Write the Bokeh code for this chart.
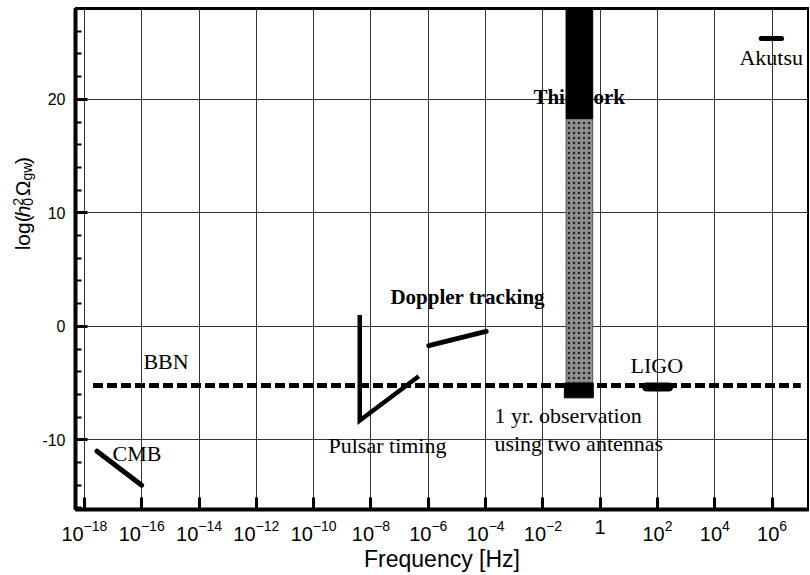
import math
from bokeh.plotting import figure
from bokeh.layouts import row
from bokeh.models import Range1d, FixedTicker, LogTickFormatter
from bokeh.core.properties import value
from bokeh.embed import file_html
from bokeh.resources import INLINE

# ---------------- data ----------------
x_tick_exponents = [-18, -16, -14, -12, -10, -8, -6, -4, -2, 0, 2, 4, 6]
y_ticks = [-10, 0, 10, 20]
y_tick_labels = ["-10", "0", "10", "20"]
y_minor_ticks = [-16, -14, -12, -10, -8, -6, -4, -2, 0, 2, 4, 6, 8, 10, 12, 14,
                 16, 18, 20, 22, 24, 26, 28]

# log10(frequency) and log(h0^2 Omega_gw) of each curve
bbn_logf = [-17.7, 7.0]
bbn_level = [-5.22, -5.22]
cmb_logf = [-17.56, -16.0]
cmb_level = [-11.0, -14.0]
pulsar_logf = [-8.39, -8.39, -6.33]
pulsar_level = [1.0, -8.3, -4.4]
doppler_logf = [-5.98, -3.98]
doppler_level = [-1.7, -0.45]
ligo_logf = [1.62, 2.39]
ligo_level = [-5.35, -5.35]
akutsu_logf = [5.62, 6.33]
akutsu_level = [25.35, 25.35]
this_work_logf = [-1.19, -0.26]
this_work_excluded = [18.3, 29.0]   # black upper part
this_work_band = [-5.0, 18.3]       # speckled part
this_work_base_logf = [-1.25, -0.24]
this_work_base = [-6.3, -5.0]

labels = ["BBN", "CMB", "Pulsar timing", "1 yr. observation", "using two antennas",
          "LIGO", "Akutsu"]
label_logf = [-15.94, -17.02, -9.48, -3.69, -3.69, 1.06, 4.86]
label_level = [-3.1, -11.2, -10.5, -7.85, -10.3, -3.45, 23.7]
bold_labels = ["Doppler tracking", "This work"]
bold_logf = [-7.32, -2.33]
bold_level = [2.55, 20.2]

# y-axis title pieces: log(h_0^2 Omega_gw)
ylab_text = ["log(", "h", "2", "0", "Ω", "gw", ")"]


def f(logs):
    return [10.0 ** v for v in logs]


x_ticks = [10.0 ** e for e in x_tick_exponents]

H = 575
p = figure(x_axis_type="log", frame_width=733, frame_height=501,
           min_border_left=39, min_border_right=1, min_border_top=8,
           min_border_bottom=65, output_backend="svg", toolbar_location=None,
           x_range=Range1d(10.0 ** -18.31, 10.0 ** 7.27),
           y_range=Range1d(-16.14, 28.0), background_fill_color="white",
           border_fill_color="white")

p.outline_line_color = "black"
p.outline_line_width = 3
p.outline_line_alpha = 1

# axes
xa = p.xaxis[0]
xa.ticker = FixedTicker(ticks=x_ticks, minor_ticks=[])
xa.formatter = LogTickFormatter()
xa.major_label_overrides = {1.0: "1"}
xa.axis_line_width = 4
xa.major_tick_in = 12
xa.major_tick_out = 0
xa.major_tick_line_width = 3
xa.major_label_standoff = 10
xa.major_label_text_font = "Liberation Sans"
xa.major_label_text_font_size = "20px"
xa.major_label_text_color = "black"
xa.axis_label = "Frequency [Hz]"
xa.axis_label_text_font = "Liberation Sans"
xa.axis_label_text_font_style = "normal"
xa.axis_label_text_font_size = "23px"
xa.axis_label_text_color = "black"
xa.axis_label_standoff = 2

ya = p.yaxis[0]
ya.ticker = FixedTicker(ticks=y_ticks, minor_ticks=y_minor_ticks)
ya.major_label_overrides = {t: s for t, s in zip(y_ticks, y_tick_labels)}
ya.axis_line_width = 4
ya.major_tick_in = 12
ya.major_tick_out = 0
ya.major_tick_line_width = 3
ya.minor_tick_in = 6
ya.minor_tick_out = 0
ya.minor_tick_line_width = 2
ya.major_label_standoff = 10
ya.major_label_text_font = "Liberation Sans"
ya.major_label_text_font_size = "16px"
ya.major_label_text_color = "black"

p.xgrid.grid_line_color = "#333333"
p.xgrid.grid_line_width = 1
p.ygrid.grid_line_color = "#333333"
p.ygrid.grid_line_width = 1

# text labels (drawn first so the bar covers "This work")
p.text(x=f(label_logf), y=label_level, text=labels, text_font=value("Liberation Serif"),
       text_font_size="22px", text_align="left", text_baseline="middle",
       text_color="black")
p.text(x=f(bold_logf), y=bold_level, text=bold_labels, text_font=value("Liberation Serif"),
       text_font_size="21px", text_font_style="bold", text_align="left",
       text_baseline="middle", text_color="black")

# this work bar
p.quad(left=[f(this_work_logf)[0]], right=[f(this_work_logf)[1]],
       bottom=[this_work_band[0]], top=[this_work_band[1]],
       fill_color="#8f8f8f", line_color="#555555", line_width=1,
       hatch_pattern="dot", hatch_color="#222222", hatch_scale=5, hatch_weight=1.5)
p.quad(left=[f(this_work_logf)[0]], right=[f(this_work_logf)[1]],
       bottom=[this_work_excluded[0]], top=[this_work_excluded[1]],
       fill_color="black", line_color="black")
p.quad(left=[f(this_work_base_logf)[0]], right=[f(this_work_base_logf)[1]],
       bottom=[this_work_base[0]], top=[this_work_base[1]],
       fill_color="black", line_color="black")

# curves
p.line(f(bbn_logf), bbn_level, line_color="black", line_width=5, line_dash="10 4")
p.line(f(cmb_logf), cmb_level, line_color="black", line_width=5, line_cap="round")
p.line(f(pulsar_logf), pulsar_level, line_color="black", line_width=4.5,
       line_join="miter")
p.line(f(doppler_logf), doppler_level, line_color="black", line_width=5, line_cap="round")
p.line(f(ligo_logf), ligo_level, line_color="black", line_width=9, line_cap="round")
p.line(f(akutsu_logf), akutsu_level, line_color="black", line_width=5, line_cap="round")

# ---------------- y-axis title panel (pixel coordinates) ----------------
W = 36
t = figure(width=W, height=H, x_range=Range1d(0, W), y_range=Range1d(0, H),
           min_border=0, output_backend="svg", toolbar_location=None,
           x_axis_location=None, y_axis_location=None,
           background_fill_color="white", border_fill_color="white")
t.outline_line_color = None
t.grid.visible = False

ylab_x = [22, 22, 17, 27, 22, 26, 22]
ylab_y = [H - 277, H - 239, H - 226, H - 226, H - 215, H - 197, H - 178]
ylab_size = ["21px", "21px", "14px", "14px", "21px", "14px", "21px"]
ylab_style = ["normal", "italic", "normal", "normal", "normal", "normal", "normal"]
for i in range(len(ylab_text)):
    t.text(x=[ylab_x[i]], y=[ylab_y[i]], text=[ylab_text[i]], angle=math.pi / 2,
           text_font=value("Liberation Sans"), text_font_size=ylab_size[i],
           text_font_style=ylab_style[i], text_color="black",
           text_align="left", text_baseline="alphabetic")

layout = row(t, p, spacing=0)
open("out.html", "w").write(file_html(layout, INLINE))
